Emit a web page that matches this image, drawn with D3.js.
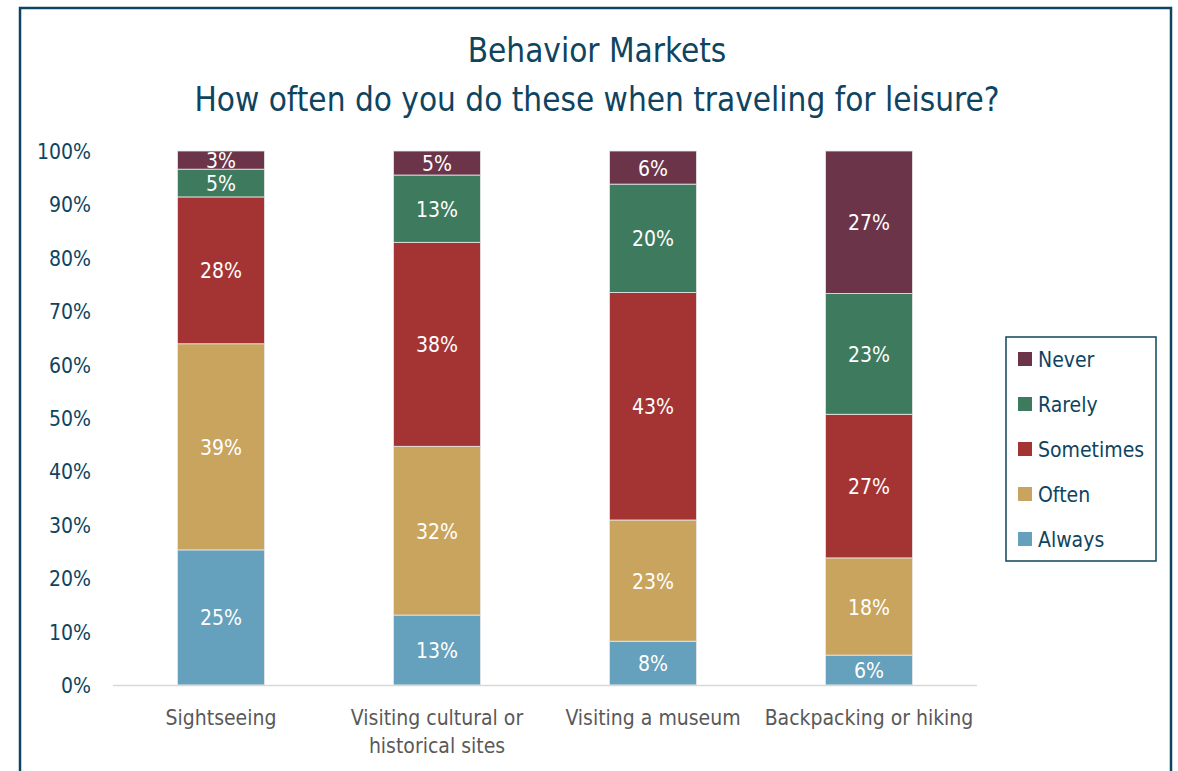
<!DOCTYPE html>
<html>
<head>
<meta charset="utf-8">
<title>Behavior Markets</title>
<script src="https://cdnjs.cloudflare.com/ajax/libs/d3/7.8.5/d3.min.js"></script>
<style>
  body { margin: 0; background: #fff; }
  text { font-family: "Liberation Sans Narrow", "DejaVu Sans Condensed", "Roboto", sans-serif; }
</style>
</head>
<body>
<div id="chart"></div>
<script>
// categories and series
var categories = [["Sightseeing"], ["Visiting cultural or", "historical sites"], ["Visiting a museum"], ["Backpacking or hiking"]];
var seriesNames = ["Always", "Often", "Sometimes", "Rarely", "Never"];
var always    = [25.3, 13.1, 8.2, 5.6];
var often     = [38.6, 31.6, 22.7, 18.2];
var sometimes = [27.5, 38.2, 42.6, 26.9];
var rarely    = [5.2, 12.6, 20.3, 22.6];
var never     = [3.4, 4.5, 6.2, 26.7];
var colors = ["#65a0bc", "#c9a45f", "#a43433", "#3e7a5e", "#6b3449"];
var yTicks = [0, 10, 20, 30, 40, 50, 60, 70, 80, 90, 100];

var W = 1178, H = 771;
var dark = "#0e4460";

var svg = d3.select("#chart").append("svg").attr("width", W).attr("height", H);

// outer frame
svg.append("rect").attr("x", 20).attr("y", 8).attr("width", 1151).attr("height", 800)
   .attr("fill", "none").attr("stroke", dark).attr("stroke-width", 2.5);

// title
svg.append("text").attr("x", 597).attr("y", 62).attr("text-anchor", "middle")
   .attr("fill", dark).style("font-size", "33px").text("Behavior Markets");
svg.append("text").attr("x", 597).attr("y", 111).attr("text-anchor", "middle")
   .attr("fill", dark).style("font-size", "33px").text("How often do you do these when traveling for leisure?");

var x = d3.scaleBand().domain(d3.range(categories.length)).range([113, 977]).paddingInner(0.597).paddingOuter(0.2985);
var y = d3.scaleLinear().domain([0, 100]).range([685, 151]);

var rows = categories.map(function(c, i){
    return {i: i, Always: always[i], Often: often[i], Sometimes: sometimes[i], Rarely: rarely[i], Never: never[i]};
});
var stack = d3.stack().keys(seriesNames)(rows);

// y axis labels
svg.append("g").selectAll("text").data(yTicks).enter().append("text")
   .attr("x", 91).attr("y", function(d){ return y(d) + 8; })
   .attr("text-anchor", "end").attr("fill", dark).style("font-size", "21px")
   .text(function(d){ return d + "%"; });

// bars
var layers = svg.append("g").selectAll("g").data(stack).enter().append("g")
   .attr("fill", function(d, k){ return colors[k]; });
layers.selectAll("rect").data(function(d){ return d; }).enter().append("rect")
   .attr("x", function(d){ return x(d.data.i); })
   .attr("width", x.bandwidth())
   .attr("y", function(d){ return y(d[1]); })
   .attr("height", function(d){ return y(d[0]) - y(d[1]); })
   .attr("stroke", "#e8e8e8").attr("stroke-width", 0.8);

// value labels
layers.selectAll("text").data(function(d){ return d; }).enter().append("text")
   .attr("x", function(d){ return x(d.data.i) + x.bandwidth() / 2; })
   .attr("y", function(d){ return (y(d[0]) + y(d[1])) / 2 + 8; })
   .attr("text-anchor", "middle").attr("fill", "#fff").style("font-size", "21px")
   .text(function(d){ return Math.round(d[1] - d[0]) + "%"; });

// x axis line
svg.append("line").attr("x1", 113).attr("x2", 977).attr("y1", 685.5).attr("y2", 685.5)
   .attr("stroke", "#d9d9d9").attr("stroke-width", 1.5);

// category labels
var cat = svg.append("g").selectAll("text").data(categories).enter().append("text")
   .attr("x", function(d, i){ return x(i) + x.bandwidth() / 2; })
   .attr("y", 725).attr("text-anchor", "middle").attr("fill", "#595959").style("font-size", "21px");
cat.selectAll("tspan").data(function(d){ return d; }).enter().append("tspan")
   .attr("x", function(){ return d3.select(this.parentNode).attr("x"); })
   .attr("dy", function(d, j){ return j ? 28 : 0; })
   .text(function(d){ return d; });

// legend
var leg = svg.append("g");
leg.append("rect").attr("x", 1006).attr("y", 337).attr("width", 150).attr("height", 224)
   .attr("fill", "#fff").attr("stroke", dark).attr("stroke-width", 1.5);
var legOrder = seriesNames.slice().reverse();
var item = leg.selectAll("g.item").data(legOrder).enter().append("g")
   .attr("transform", function(d, j){ return "translate(1018," + (359 + j * 45) + ")"; });
item.append("rect").attr("x", 0).attr("y", -7).attr("width", 14).attr("height", 14)
   .attr("fill", function(d){ return colors[seriesNames.indexOf(d)]; });
item.append("text").attr("x", 20).attr("y", 8).attr("fill", dark).style("font-size", "21px")
   .text(function(d){ return d; });
</script>
</body>
</html>
